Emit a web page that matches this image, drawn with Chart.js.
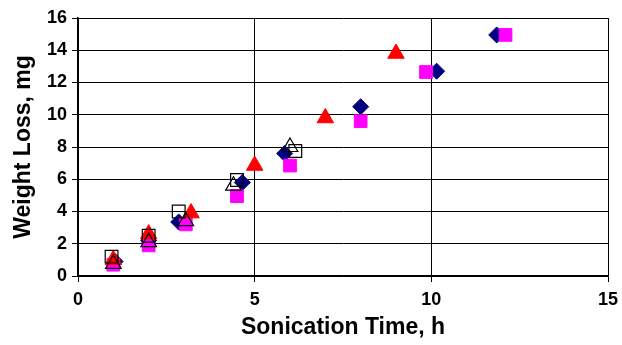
<!DOCTYPE html>
<html>
<head>
<meta charset="utf-8">
<script src="https://cdn.jsdelivr.net/npm/chart.js@4"></script>
<style>
  html, body { margin: 0; padding: 0; background: #fff; }
  #wrap { width: 622px; height: 345px; }
</style>
</head>
<body>
<div id="wrap"><canvas id="scatter-chartcanvas" width="622" height="345"></canvas></div>
<script>
// series (x = sonication time h, y = weight loss mg)
var diamondX = [1.05, 2.0, 2.85, 4.65, 5.85, 8.0, 10.15, 11.85];
var diamondY = [0.9, 2.2, 3.35, 5.8, 7.6, 10.5, 12.7, 14.95];
var pinkX = [1.0, 2.0, 3.05, 4.5, 6.0, 8.0, 9.85, 12.1];
var pinkY = [0.7, 1.9, 3.2, 4.95, 6.85, 9.6, 12.65, 14.95];
var redX = [1.0, 2.0, 3.2, 5.0, 7.0, 9.0];
var redY = [1.0, 2.6, 3.9, 6.85, 9.8, 13.8];
var openSqX = [0.95, 2.0, 2.85, 4.5, 6.15];
var openSqY = [1.2, 2.5, 4.0, 5.95, 7.75];
var openTriX = [1.0, 2.0, 3.05, 4.4, 6.0];
var openTriY = [0.75, 2.1, 3.4, 5.6, 8.0];

var xTicks = [0, 5, 10, 15];
var yTicks = [0, 2, 4, 6, 8, 10, 12, 14, 16];

function pts(xs, ys) {
    var out = [];
    for (let i = 0; i < xs.length; i++) {
        out.push({x: xs[i], y: ys[i]});
    }
    return out;
}

var ctx = document.getElementById("scatter-chartcanvas");

var data = {
    datasets: [
        {
            data: pts(diamondX, diamondY),
            pointStyle: "rectRot",
            backgroundColor: "#000080",
            borderColor: "#000080",
            borderWidth: 1,
            radius: 8,
            order: 5
        },
        {
            data: pts(pinkX, pinkY),
            pointStyle: "rect",
            backgroundColor: "#ff00ff",
            borderColor: "#ff00ff",
            borderWidth: 1,
            radius: 9,
            order: 4
        },
        {
            data: pts(redX, redY),
            pointStyle: "triangle",
            backgroundColor: "#ff0000",
            borderColor: "#ff0000",
            borderWidth: 1,
            radius: 9.5,
            order: 3
        },
        {
            data: pts(openSqX, openSqY),
            pointStyle: "rect",
            backgroundColor: "rgba(0,0,0,0)",
            borderColor: "#000",
            borderWidth: 1.2,
            radius: 9,
            order: 2
        },
        {
            data: pts(openTriX, openTriY),
            pointStyle: "triangle",
            backgroundColor: "rgba(0,0,0,0)",
            borderColor: "#000",
            borderWidth: 1.2,
            radius: 9,
            order: 1
        }
    ]
};

var tickFont = {family: "'Liberation Sans', Arial, sans-serif", size: 18, weight: "bold"};
var titleFont = {family: "'Liberation Sans', Arial, sans-serif", size: 23, weight: "bold"};

var options = {
    responsive: false,
    animation: false,
    layout: {padding: {top: 18, right: 14, left: 0, bottom: 0}},
    plugins: {
        legend: {display: false},
        tooltip: {enabled: false}
    },
    scales: {
        x: {
            type: "linear",
            min: 0,
            max: 15,
            afterBuildTicks: function(scale) {
                scale.ticks = xTicks.map(function(v) { return {value: v}; });
            },
            afterFit: function(scale) {
                scale.height = 69;
                scale.paddingRight = 0;
            },
            grid: {color: "#000", lineWidth: 1, tickLength: 6},
            border: {color: "#000", width: 1.5},
            ticks: {color: "#000", font: tickFont, padding: 7, maxRotation: 0},
            title: {display: true, text: "Sonication Time, h", color: "#000", font: titleFont, padding: {top: 4, bottom: 4}}
        },
        y: {
            type: "linear",
            min: 0,
            max: 16,
            afterBuildTicks: function(scale) {
                scale.ticks = yTicks.map(function(v) { return {value: v}; });
            },
            afterFit: function(scale) { scale.width = 78; },
            grid: {color: "#000", lineWidth: 1, tickLength: 6},
            border: {color: "#000", width: 1.5},
            ticks: {color: "#000", font: tickFont, padding: 5},
            title: {display: true, text: "Weight Loss, mg", color: "#000", font: titleFont, padding: {top: 10, bottom: 4}}
        }
    }
};

var chart = new Chart(ctx, {
    type: "scatter",
    data: data,
    options: options
});
</script>
</body>
</html>
